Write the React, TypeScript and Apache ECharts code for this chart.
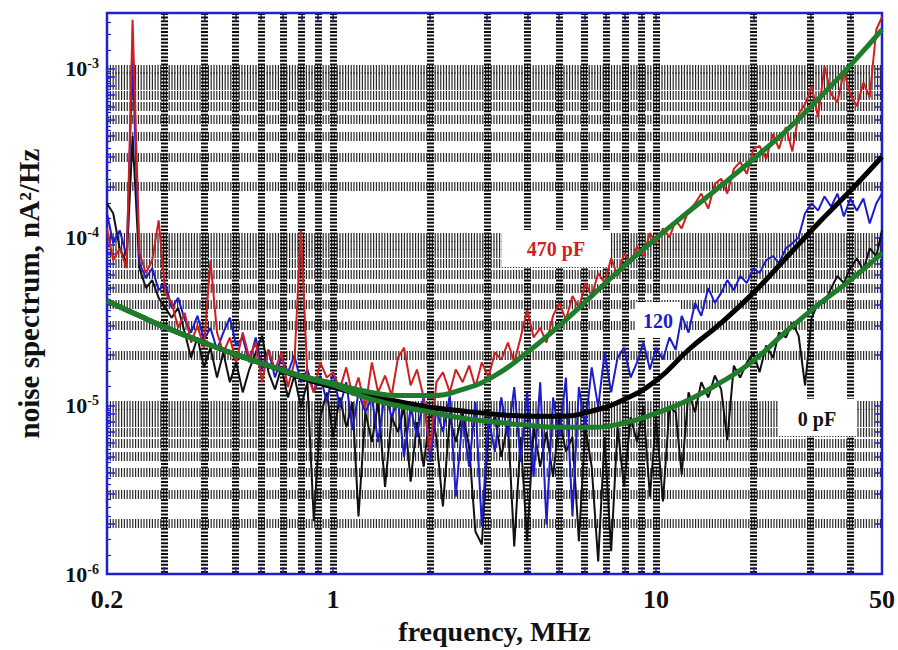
import React, { useEffect, useRef } from "react";
import * as echarts from "echarts";

// frequency grid of the measured spectra (MHz)
const freqMHz = [
  0.2, 0.209, 0.219, 0.23, 0.24, 0.252, 0.264, 0.276, 0.289, 0.303,
  0.317, 0.332, 0.348, 0.364, 0.381, 0.399, 0.418, 0.438, 0.458, 0.48,
  0.502, 0.526, 0.551, 0.577, 0.604, 0.632, 0.662, 0.693, 0.726, 0.76,
  0.796, 0.834, 0.873, 0.914, 0.957, 1.002, 1.05, 1.1, 1.15, 1.2,
  1.26, 1.32, 1.38, 1.45, 1.52, 1.59, 1.66, 1.74, 1.82, 1.91,
  2.0, 2.09, 2.19, 2.3, 2.4, 2.52, 2.64, 2.76, 2.89, 3.03,
  3.17, 3.32, 3.48, 3.64, 3.81, 3.99, 4.18, 4.38, 4.58, 4.8,
  5.02, 5.26, 5.51, 5.77, 6.04, 6.32, 6.62, 6.93, 7.26, 7.6,
  7.96, 8.34, 8.73, 9.14, 9.57, 10.0, 10.5, 11.0, 11.5, 12.0,
  12.6, 13.2, 13.8, 14.5, 15.2, 15.9, 16.6, 17.4, 18.2, 19.1,
  20.0, 20.9, 21.9, 23.0, 24.0, 25.2, 26.4, 27.6, 28.9, 30.3,
  31.7, 33.2, 34.8, 36.4, 38.1, 39.9, 41.8, 43.8, 45.8, 48.0,
  50.0,
];

// measured noise spectra (nA^2/Hz)
const noise470pF = [
  1.13e-4, 7.31e-5, 8.6e-5, 6.56e-5, 1.96e-3, 8.05e-5, 6.14e-5, 7.31e-5, 1.26e-4, 4.68e-5,
  4.08e-5, 2.9e-5, 3.56e-5, 2.37e-5, 2.99e-5, 2.21e-5, 7.31e-5, 2.72e-5, 2.07e-5, 2.54e-5,
  1.81e-5, 2.72e-5, 1.93e-5, 2.37e-5, 1.38e-5, 2.15e-5, 1.64e-5, 2.07e-5, 1.29e-5, 1.81e-5,
  1.1e-4, 1.51e-5, 1.2e-5, 1.81e-5, 1.47e-5, 1.58e-5, 1.25e-5, 1.69e-5, 1.15e-5, 1.47e-5,
  9.8e-6, 1.81e-5, 1.2e-5, 1.51e-5, 1.15e-5, 1.93e-5, 2.21e-5, 1.32e-5, 1.64e-5, 1.12e-5,
  5.32e-6, 1.38e-5, 1.58e-5, 1.2e-5, 1.64e-5, 1.38e-5, 1.73e-5, 1.29e-5, 1.81e-5, 1.47e-5,
  2.07e-5, 1.88e-5, 2.37e-5, 1.81e-5, 2.54e-5, 3.7e-5, 2.54e-5, 2.9e-5, 2.37e-5, 3.42e-5,
  4.08e-5, 3.24e-5, 4.49e-5, 3.81e-5, 5.36e-5, 4.49e-5, 6.14e-5, 5.36e-5, 7.52e-5, 5.89e-5,
  8.05e-5, 7.03e-5, 8.85e-5, 7.73e-5, 1.06e-4, 9.22e-5, 1.13e-4, 1.0e-4, 1.26e-4, 1.13e-4,
  1.44e-4, 1.59e-4, 1.82e-4, 1.48e-4, 2.08e-4, 2.23e-4, 1.82e-4, 2.55e-4, 2.81e-4, 2.39e-4,
  3.35e-4, 3.49e-4, 2.92e-4, 4.11e-4, 3.35e-4, 4.52e-4, 3.24e-4, 5.4e-4, 6.18e-4, 7.89e-4,
  5.17e-4, 1.04e-3, 7.08e-4, 6.34e-4, 9.66e-4, 7.08e-4, 6.0e-4, 8.32e-4, 6.79e-4, 1.71e-3,
  2.04e-3,
];

const noise120pF = [
  1.39e-4, 9.22e-5, 1.1e-4, 7.73e-5, 1.14e-3, 7.03e-5, 5.73e-5, 6.56e-5, 4.86e-5, 5.36e-5,
  3.81e-5, 4.37e-5, 3.24e-5, 2.72e-5, 3.42e-5, 2.47e-5, 2.9e-5, 2.15e-5, 2.72e-5, 3.33e-5,
  2.28e-5, 2.54e-5, 1.81e-5, 2.54e-5, 1.64e-5, 2.15e-5, 1.47e-5, 1.93e-5, 1.58e-5, 1.99e-5,
  1.38e-5, 1.64e-5, 1.2e-5, 1.51e-5, 1.05e-5, 1.58e-5, 9.8e-6, 1.38e-5, 7.17e-6, 1.2e-5,
  9.16e-6, 1.12e-5, 6.09e-6, 1.2e-5, 8.55e-6, 1.09e-5, 4.97e-6, 9.8e-6, 6.52e-6, 1.15e-5,
  4.64e-6, 9.53e-6, 6.98e-6, 1.15e-5, 2.88e-6, 8.55e-6, 4.34e-6, 1.05e-5, 1.92e-6, 8.55e-6,
  5.32e-6, 1.12e-5, 6.52e-6, 1.29e-5, 4.64e-6, 1.2e-5, 3.78e-6, 1.38e-5, 1.97e-6, 1.12e-5,
  6.52e-6, 1.47e-5, 2.2e-6, 1.29e-5, 7.46e-6, 1.69e-5, 9.8e-6, 2.07e-5, 1.2e-5, 1.93e-5,
  2.21e-5, 1.47e-5, 1.81e-5, 2.37e-5, 1.64e-5, 2.21e-5, 1.88e-5, 2.54e-5, 2.15e-5, 3.42e-5,
  2.72e-5, 4.08e-5, 3.42e-5, 5.0e-5, 4.08e-5, 4.68e-5, 5.57e-5, 4.86e-5, 5.89e-5, 5.36e-5,
  6.56e-5, 6.14e-5, 7.31e-5, 7.73e-5, 7.03e-5, 8.6e-5, 9.22e-5, 1.0e-4, 1.39e-4, 1.59e-4,
  1.44e-4, 1.75e-4, 1.52e-4, 1.82e-4, 1.33e-4, 1.7e-4, 1.44e-4, 1.7e-4, 1.21e-4, 1.59e-4,
  1.82e-4,
];

const noise0pF = [
  1.59e-4, 1.39e-4, 8.6e-5, 7.03e-5, 4.0e-4, 6.56e-5, 5.0e-5, 5.57e-5, 4.37e-5, 3.81e-5,
  3.33e-5, 3.81e-5, 2.72e-5, 1.93e-5, 2.54e-5, 1.69e-5, 2.21e-5, 1.47e-5, 2.07e-5, 1.38e-5,
  1.81e-5, 1.2e-5, 1.64e-5, 2.07e-5, 2.61e-5, 1.58e-5, 1.25e-5, 1.69e-5, 1.12e-5, 1.51e-5,
  9.8e-6, 1.38e-5, 2.06e-6, 8.55e-6, 1.2e-5, 6.52e-6, 1.12e-5, 7.46e-6, 1.05e-5, 2.2e-6,
  9.16e-6, 6.09e-6, 1.05e-5, 3.3e-6, 8.55e-6, 6.98e-6, 9.8e-6, 3.54e-6, 8.0e-6, 4.34e-6,
  9.8e-6, 6.52e-6, 2.52e-6, 8.55e-6, 6.09e-6, 9.16e-6, 5.69e-6, 1.79e-6, 1.5e-6, 7.46e-6,
  8.55e-6, 4.97e-6, 8.0e-6, 1.46e-6, 6.52e-6, 1.57e-6, 7.46e-6, 4.34e-6, 6.98e-6, 3.78e-6,
  8.55e-6, 5.32e-6, 6.52e-6, 1.57e-6, 7.46e-6, 4.34e-6, 1.19e-6, 6.52e-6, 1.37e-6, 7.46e-6,
  3.3e-6, 8.55e-6, 6.09e-6, 9.8e-6, 2.88e-6, 8.55e-6, 2.7e-6, 9.8e-6, 9.16e-6, 3.89e-6,
  1.2e-5, 9.16e-6, 1.38e-5, 1.12e-5, 1.51e-5, 1.25e-5, 6.25e-6, 1.73e-5, 1.47e-5, 1.81e-5,
  2.07e-5, 1.58e-5, 2.28e-5, 1.93e-5, 2.72e-5, 2.54e-5, 3.11e-5, 2.61e-5, 1.32e-5, 3.33e-5,
  4.08e-5, 4.08e-5, 5.0e-5, 5.89e-5, 5.36e-5, 6.56e-5, 7.52e-5, 6.38e-5, 8.6e-5, 7.73e-5,
  1.1e-4,
];

// fitted curves
const fitFreqMHz = [
  0.2, 0.252, 0.317, 0.399, 0.502, 0.632, 0.796, 1.0, 1.26, 1.59, 2.0, 2.52, 3.17,
  3.99, 5.02, 6.32, 7.96, 10.0, 12.6, 15.9, 20.0, 25.2, 31.7, 39.9, 50.0,
];
const fit470pF = [
  4.19e-5, 3.42e-5, 2.82e-5, 2.37e-5, 2.01e-5, 1.73e-5, 1.51e-5, 1.36e-5, 1.22e-5, 1.15e-5,
  1.15e-5, 1.25e-5, 1.51e-5, 2.07e-5, 2.99e-5, 4.49e-5, 6.75e-5, 9.87e-5, 1.42e-4, 2.03e-4,
  2.92e-4, 4.28e-4, 6.61e-4, 1.05e-3, 1.71e-3,
];
const fit120pF = [
  4.19e-5, 3.42e-5, 2.82e-5, 2.37e-5, 2.01e-5, 1.73e-5, 1.47e-5, 1.29e-5, 1.15e-5, 1.06e-5,
  9.8e-6, 9.29e-6, 8.91e-6, 8.67e-6, 8.67e-6, 9.29e-6, 1.09e-5, 1.41e-5, 2.15e-5, 3.11e-5,
  4.68e-5, 7.52e-5, 1.21e-4, 1.89e-4, 3.01e-4,
];
const fit0pF = [
  4.19e-5, 3.42e-5, 2.82e-5, 2.37e-5, 2.01e-5, 1.73e-5, 1.49e-5, 1.33e-5, 1.12e-5, 1.0e-5,
  9.16e-6, 8.44e-6, 8.0e-6, 7.67e-6, 7.46e-6, 7.46e-6, 7.89e-6, 9.03e-6, 1.08e-5, 1.38e-5,
  1.85e-5, 2.75e-5, 3.97e-5, 5.57e-5, 8.05e-5,
];

// ticks & grid
const xLabelValues = [0.2, 1, 10, 50];
const yLabelValues = [1e-6, 1e-5, 1e-4, 1e-3];
const xGridValues = [
  0.3, 0.4, 0.5, 0.6, 0.7, 0.8, 0.9, 1, 2, 3, 4, 5, 6, 7, 8, 9, 10, 20, 30, 40,
];
const yGridValues = [
  2e-6, 3e-6, 4e-6, 5e-6, 6e-6, 7e-6, 8e-6, 9e-6,
  1e-5, 2e-5, 3e-5, 4e-5, 5e-5, 6e-5, 7e-5, 8e-5, 9e-5,
  1e-4, 2e-4, 3e-4, 4e-4, 5e-4, 6e-4, 7e-4, 8e-4, 9e-4,
  1e-3,
];

const X_MIN = 0.2;
const X_MAX = 50;
const Y_MIN = 1e-6;
const Y_MAX = 2.15e-3;

const FONT = '"Liberation Serif", "DejaVu Serif", "Times New Roman", serif';
const BLUE = "#1f22cc";
const RED = "#d01f1f";
const TRACE_BLUE = "#1c1ccc";
const GREEN = "#1d7d2a";

const pairs = (xs: number[], ys: number[]) => xs.map((x, i) => [x, ys[i]]);

export default function App() {
  const ref = useRef<HTMLDivElement>(null);

  useEffect(() => {
    if (!ref.current) return;
    const chart = echarts.init(ref.current, null, { renderer: "svg" });

    const noisy = (name: string, data: number[], color: string) => ({
      name,
      type: "line",
      data: pairs(freqMHz, data),
      showSymbol: false,
      symbol: "none",
      silent: true,
      z: 10,
      lineStyle: { color, width: 2 },
    });
    const fit = (name: string, data: number[], color: string) => ({
      name,
      type: "line",
      data: pairs(fitFreqMHz, data),
      showSymbol: false,
      symbol: "none",
      smooth: true,
      silent: true,
      z: 11,
      lineStyle: { color, width: 5 },
    });

    const option: any = {
      animation: false,
      grid: {
        left: 107,
        top: 13,
        width: 775,
        height: 565,
        show: true,
        z: 4,
        backgroundColor: "transparent",
        borderColor: BLUE,
        borderWidth: 2.5,
      },
      xAxis: [
        {
          type: "log",
          logBase: 10,
          min: X_MIN,
          max: X_MAX,
          position: "bottom",
          z: 1,
          name: "frequency, MHz",
          nameLocation: "middle",
          nameGap: 42,
          nameTextStyle: { fontFamily: FONT, fontWeight: "bold", fontSize: 28, color: "#111" },
          axisLine: { show: false },
          axisTick: {
            show: true,
            inside: true,
            length: 7,
            customValues: xGridValues,
            lineStyle: { color: BLUE, width: 1.5 },
          },
          axisLabel: {
            fontFamily: FONT,
            fontWeight: "bold",
            fontSize: 26,
            color: "#111",
            customValues: xLabelValues,
            margin: 12,
            formatter: (v: number) => String(+Number(v).toPrecision(3)),
          },
          splitLine: {
            show: true,
            lineStyle: { color: "#0d0d0d", width: 7, type: [2, 1.6] },
          },
        },
        {
          type: "log",
          logBase: 10,
          min: X_MIN,
          max: X_MAX,
          position: "top",
          axisLine: { show: false },
          axisTick: {
            show: true,
            inside: true,
            length: 7,
            customValues: xGridValues,
            lineStyle: { color: BLUE, width: 1.5 },
          },
          axisLabel: { show: false },
          splitLine: { show: false },
        },
      ],
      yAxis: [
        {
          type: "log",
          logBase: 10,
          min: Y_MIN,
          max: Y_MAX,
          position: "left",
          z: 0,
          name: "noise spectrum, nA²/Hz",
          nameLocation: "middle",
          nameGap: 64,
          nameTextStyle: { fontFamily: FONT, fontWeight: "bold", fontSize: 29, color: "#111" },
          axisLine: { show: false },
          axisTick: {
            show: true,
            inside: true,
            length: 8,
            customValues: yGridValues,
            lineStyle: { color: BLUE, width: 1.5 },
          },
          minorTick: {
            show: true,
            splitNumber: 30,
            length: 4,
            lineStyle: { color: BLUE, width: 1.2 },
          },
          axisLabel: {
            customValues: yLabelValues,
            margin: 8,
            formatter: (v: number) => `{b|10}{s|${Math.round(Math.log10(v))}}`,
            rich: {
              b: { fontFamily: FONT, fontWeight: "bold", fontSize: 22, color: "#111", lineHeight: 24 },
              s: {
                fontFamily: FONT,
                fontWeight: "bold",
                fontSize: 14,
                color: "#111",
                verticalAlign: "top",
                lineHeight: 24,
              },
            },
          },
          splitLine: {
            show: true,
            lineStyle: { color: "#2a2a2a", width: 9, type: [1.2, 1.6] },
          },
        },
        {
          type: "log",
          logBase: 10,
          min: Y_MIN,
          max: Y_MAX,
          position: "right",
          axisLine: { show: false },
          axisTick: {
            show: true,
            inside: true,
            length: 7,
            customValues: yGridValues,
            lineStyle: { color: BLUE, width: 1.5 },
          },
          axisLabel: { show: false },
          splitLine: { show: false },
        },
      ],
      graphic: [
        { type: "rect", z: 5, shape: { x: 502, y: 230, width: 108, height: 37 }, style: { fill: "#fff" } },
        {
          type: "text",
          z: 6,
          x: 556,
          y: 249,
          style: {
            text: "470 pF",
            fill: RED,
            font: `bold 20px ${FONT}`,
            textAlign: "center",
            textVerticalAlign: "middle",
          },
        },
        { type: "rect", z: 5, shape: { x: 635, y: 302, width: 46, height: 36 }, style: { fill: "#fff" } },
        {
          type: "text",
          z: 6,
          x: 658,
          y: 321,
          style: {
            text: "120",
            fill: TRACE_BLUE,
            font: `bold 20px ${FONT}`,
            textAlign: "center",
            textVerticalAlign: "middle",
          },
        },
        { type: "rect", z: 5, shape: { x: 778, y: 399, width: 79, height: 37 }, style: { fill: "#fff" } },
        {
          type: "text",
          z: 6,
          x: 817,
          y: 419,
          style: {
            text: "0 pF",
            fill: "#111",
            font: `bold 20px ${FONT}`,
            textAlign: "center",
            textVerticalAlign: "middle",
          },
        },
      ],
      series: [
        noisy("0 pF", noise0pF, "#111"),
        noisy("120 pF", noise120pF, TRACE_BLUE),
        noisy("470 pF", noise470pF, RED),
        fit("fit 120 pF", fit120pF, "#000"),
        fit("fit 0 pF", fit0pF, GREEN),
        fit("fit 470 pF", fit470pF, GREEN),
      ],
    };

    chart.setOption(option);
    return () => chart.dispose();
  }, []);

  return (
    <div
      ref={ref}
      style={{ position: "fixed", left: 0, top: 0, width: 898, height: 650, background: "#fff" }}
    />
  );
}
